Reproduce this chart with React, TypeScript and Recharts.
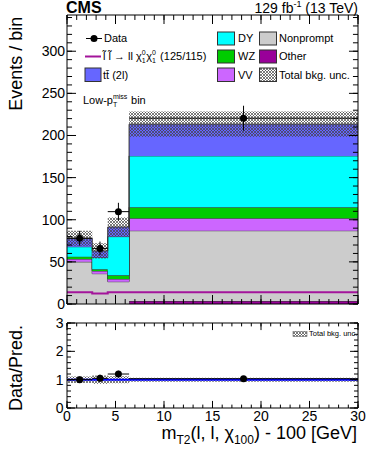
import * as React from 'react';
import { ComposedChart, Area, Line, Scatter, ErrorBar, XAxis, YAxis, ReferenceLine } from 'recharts';

// bin edges in mT2 - 100 [GeV]
const binEdges = [0, 2.6, 4.2, 6.4, 30];

// stacked backgrounds, bottom to top
const other = [0, 0, 0, 3.5];
const nonprompt = [50, 36, 26.5, 83.5];
const vv = [3.4, 3.2, 3.2, 14.8];
const wz = [2.8, 2, 4.3, 13];
const dy = [11.8, 14, 46, 61];
const ttbar = [10, 7.8, 11.4, 37.6];
const bkgUnc = [9, 9, 11.3, 15];

const dataObs = [78, 66, 109.6, 220.5];
const dataErr = [8.8, 8.1, 10.5, 14.8];
const signal = [14, 12.5, 14, 14];

const xMajor = [0, 5, 10, 15, 20, 25, 30];
const yMajor = [0, 50, 100, 150, 200, 250, 300];
const rMajor = [0, 1, 2, 3];
const xMinor = Array.from({ length: 31 }, (_, i) => i);
const yMinor = Array.from({ length: 35 }, (_, i) => i * 10);
const rMinor = Array.from({ length: 16 }, (_, i) => +(i * 0.2).toFixed(1));

const COLORS = {
    other: '#990099',
    nonprompt: '#cccccc',
    vv: '#cc66ff',
    wz: '#00cc00',
    dy: '#00ffff',
    ttbar: '#6666ff',
    signal: '#a3149a',
};

const FONT = '"Liberation Sans", Arial, Helvetica, sans-serif';
const X_MAX = 30;
const Y_MAX = 343;
const R_MAX = 3;

const bins = [0, 1, 2, 3];
const totals = bins.map(i => other[i] + nonprompt[i] + vv[i] + wz[i] + dy[i] + ttbar[i]);

const binRow = (x: number, i: number) => ({
    x,
    other: other[i],
    nonprompt: nonprompt[i],
    vv: vv[i],
    wz: wz[i],
    dy: dy[i],
    ttbar: ttbar[i],
    signal: signal[i],
    band: [totals[i] - bkgUnc[i], totals[i] + bkgUnc[i]],
    rband: [1 - bkgUnc[i] / totals[i], 1 + bkgUnc[i] / totals[i]],
});

const histRows = [...bins.map(i => binRow(binEdges[i], i)), binRow(binEdges[4], 3)];

const dataPts = bins.map(i => ({
    x: (binEdges[i] + binEdges[i + 1]) / 2,
    y: dataObs[i],
    ex: (binEdges[i + 1] - binEdges[i]) / 2,
    ey: dataErr[i],
}));

const ratioPts = bins.map(i => ({
    x: (binEdges[i] + binEdges[i + 1]) / 2,
    y: dataObs[i] / totals[i],
    ex: (binEdges[i + 1] - binEdges[i]) / 2,
    ey: dataErr[i] / totals[i],
}));

const dot = (p: any) => <circle cx={p.cx} cy={p.cy} r={3.5} fill="#000" />;

const stackArea = (key: keyof typeof COLORS) => (
    <Area
        key={key}
        stackId="bkg"
        dataKey={key}
        type="stepAfter"
        fill={COLORS[key]}
        fillOpacity={1}
        stroke="#333"
        strokeWidth={1}
        dot={false}
        activeDot={false}
        isAnimationActive={false}
    />
);

// ROOT-style frame with inner ticks on all four sides, drawn as reference segments.
// lengths are given in data units of the axis the tick sticks into.
const frame = (yMax: number, yTicks: number[], yMinorTicks: number[], xLen: number[], yLen: number[]) => {
    const seg = (k: string, a: any, b: any) => (
        <ReferenceLine key={k} segment={[a, b]} stroke="#000" strokeWidth={1} ifOverflow="visible" />
    );
    const out: any[] = [];
    xMajor.forEach(t => {
        out.push(seg(`xb${t}`, { x: t, y: 0 }, { x: t, y: yLen[0] }));
        out.push(seg(`xt${t}`, { x: t, y: yMax }, { x: t, y: yMax - yLen[0] }));
    });
    xMinor.forEach(t => {
        out.push(seg(`xbm${t}`, { x: t, y: 0 }, { x: t, y: yLen[1] }));
        out.push(seg(`xtm${t}`, { x: t, y: yMax }, { x: t, y: yMax - yLen[1] }));
    });
    yTicks.forEach(t => {
        out.push(seg(`yl${t}`, { x: 0, y: t }, { x: xLen[0], y: t }));
        out.push(seg(`yr${t}`, { x: X_MAX, y: t }, { x: X_MAX - xLen[0], y: t }));
    });
    yMinorTicks.forEach(t => {
        out.push(seg(`ylm${t}`, { x: 0, y: t }, { x: xLen[1], y: t }));
        out.push(seg(`yrm${t}`, { x: X_MAX, y: t }, { x: X_MAX - xLen[1], y: t }));
    });
    out.push(seg('fb', { x: 0, y: 0 }, { x: X_MAX, y: 0 }));
    out.push(seg('ft', { x: 0, y: yMax }, { x: X_MAX, y: yMax }));
    out.push(seg('fl', { x: 0, y: 0 }, { x: 0, y: yMax }));
    out.push(seg('fr', { x: X_MAX, y: 0 }, { x: X_MAX, y: yMax }));
    return out;
};

const axes = (yMax: number, yTicks: number[], xLabels: boolean, yMargin: number) => [
    <XAxis key="x" type="number" dataKey="x" domain={[0, X_MAX]} allowDataOverflow ticks={xMajor} interval={0}
        tick={xLabels ? { fontSize: 14, fill: '#000', fontFamily: FONT } : false}
        tickLine={false} tickSize={0} tickMargin={3} axisLine={false} height={xLabels ? 45 : 0} />,
    <YAxis key="y" type="number" domain={[0, yMax]} allowDataOverflow ticks={yTicks} interval={0}
        tick={{ fontSize: 14, fill: '#000', fontFamily: FONT }} tickLine={false} tickSize={0} tickMargin={yMargin} axisLine={false} width={67} />,
];

const Txt = ({ x, y, size, children, right, bold }: any) => (
    <div style={{
        position: 'absolute', top: y, left: right ? undefined : x, right: right ? 374 - x : undefined,
        fontSize: size, lineHeight: `${size}px`, whiteSpace: 'nowrap', fontWeight: bold ? 'bold' : 'normal',
    }}>{children}</div>
);

// stacked super/subscript (e.g. chi^0_1, p_T^miss)
const Scr = ({ sup, sub, w, size = 7 }: any) => (
    <span style={{ position: 'relative', display: 'inline-block', width: w, height: 0 }}>
        <span style={{ position: 'absolute', left: 0, bottom: 4, fontSize: size, lineHeight: 1 }}>{sup}</span>
        <span style={{ position: 'absolute', left: 0, top: -3, fontSize: size, lineHeight: 1 }}>{sub}</span>
    </span>
);

const Sub = ({ children, size, dy }: any) => (
    <span style={{ position: 'relative', top: dy, fontSize: size }}>{children}</span>
);

export default function App() {
    return (
        <div style={{ position: 'absolute', left: 0, top: 0, width: 374, height: 453, background: '#fff', fontFamily: FONT, color: '#000', overflow: 'hidden' }}>
            <svg width={0} height={0} style={{ position: 'absolute' }}>
                <defs>
                    <pattern id="hatch" width={3} height={3} patternUnits="userSpaceOnUse">
                        <path d="M0,0 L3,3 M3,0 L0,3" stroke="#444" strokeWidth={0.7} />
                    </pattern>
                </defs>
            </svg>

            <div style={{ position: 'absolute', left: 0, top: 0 }}>
                <ComposedChart width={374} height={318} data={histRows} margin={{ top: 15, right: 16, bottom: 14, left: 0 }}>
                    {axes(Y_MAX, yMajor, false, 2)}
                    {stackArea('other')}
                    {stackArea('nonprompt')}
                    {stackArea('vv')}
                    {stackArea('wz')}
                    {stackArea('dy')}
                    {stackArea('ttbar')}
                    <Area dataKey="band" type="stepAfter" fill="url(#hatch)" fillOpacity={1} stroke="none" dot={false} activeDot={false} isAnimationActive={false} />
                    <Line dataKey="signal" type="stepAfter" stroke={COLORS.signal} strokeWidth={2} dot={false} activeDot={false} isAnimationActive={false} />
                    {frame(Y_MAX, yMajor, yMinor, [0.93, 0.52], [10.7, 5.9])}
                    <Scatter data={dataPts} dataKey="y" shape={dot} isAnimationActive={false}>
                        <ErrorBar dataKey="ex" direction="x" width={0} stroke="#000" strokeWidth={1} />
                        <ErrorBar dataKey="ey" direction="y" width={0} stroke="#000" strokeWidth={1} />
                    </Scatter>
                </ComposedChart>
            </div>

            <div style={{ position: 'absolute', left: 0, top: 310 }}>
                <ComposedChart width={374} height={143} data={histRows} margin={{ top: 13, right: 16, bottom: 0, left: 0 }}>
                    {axes(R_MAX, rMajor, true, 3.5)}
                    <Area dataKey="rband" type="stepAfter" fill="url(#hatch)" fillOpacity={1} stroke="none" dot={false} activeDot={false} isAnimationActive={false} />
                    <ReferenceLine y={1} stroke="#0000ff" strokeWidth={2} />
                    {frame(R_MAX, rMajor, rMinor, [0.82, 0.41], [0.25, 0.12])}
                    <Scatter data={ratioPts} dataKey="y" shape={dot} isAnimationActive={false}>
                        <ErrorBar dataKey="ex" direction="x" width={0} stroke="#000" strokeWidth={1} />
                        <ErrorBar dataKey="ey" direction="y" width={0} stroke="#000" strokeWidth={1} />
                    </Scatter>
                </ComposedChart>
            </div>

            {/* legend symbols and rotated axis titles */}
            <svg width={374} height={453} style={{ position: 'absolute', left: 0, top: 0, pointerEvents: 'none' }}>
                <line x1={86} x2={102} y1={38.5} y2={38.5} stroke="#000" />
                <circle cx={94} cy={38.5} r={3.5} fill="#000" />
                <line x1={85} x2={101} y1={56.5} y2={56.5} stroke={COLORS.signal} strokeWidth={2} />
                <rect x={85} y={68} width={16} height={13.5} fill={COLORS.ttbar} stroke="#333" />
                <rect x={217.5} y={32} width={17} height={13} fill={COLORS.dy} stroke="#333" />
                <rect x={217.5} y={50} width={17} height={13} fill={COLORS.wz} stroke="#333" />
                <rect x={217.5} y={68} width={17} height={13.5} fill={COLORS.vv} stroke="#333" />
                <rect x={259.5} y={32} width={17} height={13} fill={COLORS.nonprompt} stroke="#333" />
                <rect x={259.5} y={50} width={17} height={13} fill={COLORS.other} stroke="#333" />
                <rect x={259.5} y={68} width={17} height={13.5} fill="url(#hatch)" stroke="#333" />
                <rect x={293} y={331.5} width={14} height={5} fill="url(#hatch)" stroke="#666" strokeWidth={0.6} />
                <text x={21.7} y={16.7} transform="rotate(-90 21.7 16.7)" textAnchor="end" fontSize={18} fontFamily={FONT}>Events / bin</text>
                <text x={21.7} y={325} transform="rotate(-90 21.7 325)" textAnchor="end" fontSize={18} fontFamily={FONT}>Data/Pred.</text>
            </svg>

            <Txt x={66} y={-0.5} size={16} bold>CMS</Txt>
            <Txt x={358} y={1.4} size={14} right>129 fb<Sub size={9} dy={-6}>-1</Sub> (13 TeV)</Txt>

            <Txt x={104} y={33.1} size={11}>Data</Txt>
            <Txt x={103} y={51.1} size={11}>l&#x0303; l&#x0303; &#x2192; ll &#x3C7;<Scr sup="0" sub="1" w={4.5} />&#x3C7;<Scr sup="0" sub="1" w={5} /> (125/115)</Txt>
            <Txt x={103} y={69.6} size={11}>tt&#x0304; (2l)</Txt>
            <Txt x={238} y={33.1} size={11}>DY</Txt>
            <Txt x={238} y={51.1} size={11}>WZ</Txt>
            <Txt x={238} y={69.6} size={11}>VV</Txt>
            <Txt x={279} y={33.1} size={11}>Nonprompt</Txt>
            <Txt x={279} y={51.1} size={11}>Other</Txt>
            <Txt x={279} y={69.6} size={11}>Total bkg. unc.</Txt>

            <Txt x={83} y={94.7} size={11}>Low-p<Scr sup="miss" sub="T" w={15} /> bin</Txt>

            <Txt x={309} y={330.4} size={7.5}>Total bkg. unc.</Txt>

            <Txt x={357} y={423.5} size={18} right>
                m<Sub size={12} dy={5}>T2</Sub>(l, l, &#x3C7;<Sub size={12} dy={5}>100</Sub>) - 100 [GeV]
            </Txt>
        </div>
    );
}
